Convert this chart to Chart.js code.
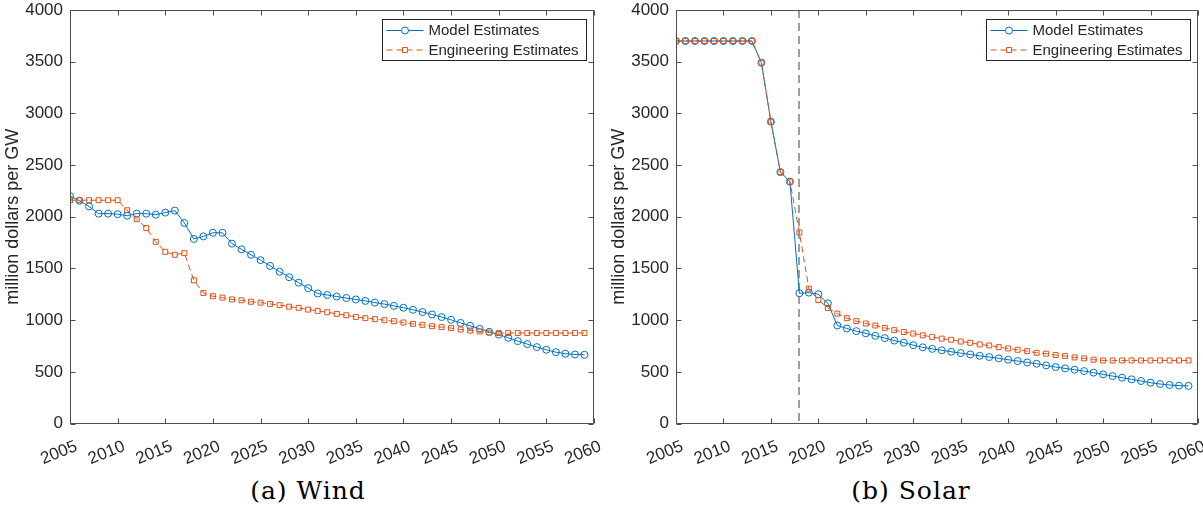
<!DOCTYPE html>
<html lang="en">
  <head>
    <meta charset="UTF-8" />
    <script src="https://cdn.jsdelivr.net/npm/chart.js@4.4.0/dist/chart.umd.min.js"></script>
    <title>Wind and solar cost estimates</title>
    <style>
      body {
        margin: 0;
        background: #fff;
        width: 1203px;
        height: 506px;
        position: relative;
        overflow: hidden;
      }
      .panel {
        position: absolute;
        top: 0;
      }
      #panelWind { left: 0; }
      #panelSolar { left: 606px; }
      .caption {
        position: absolute;
        top: 477px;
        font-family: 'DejaVu Serif', serif;
        font-size: 25px;
        letter-spacing: 1px;
        line-height: 28px;
        transform: translateX(-50%);
        white-space: nowrap;
        color: #000;
      }
    </style>
  </head>
  <body>
    <div class="panel" id="panelWind"><canvas id="chartWind" width="601" height="475"></canvas></div>
    <div class="panel" id="panelSolar"><canvas id="chartSolar" width="597" height="475"></canvas></div>
    <div class="caption" style="left: 308px">(a) Wind</div>
    <div class="caption" style="left: 911px">(b) Solar</div>
    <script>
      const years = [
        2005, 2006, 2007, 2008, 2009, 2010, 2011, 2012, 2013, 2014,
        2015, 2016, 2017, 2018, 2019, 2020, 2021, 2022, 2023, 2024,
        2025, 2026, 2027, 2028, 2029, 2030, 2031, 2032, 2033, 2034,
        2035, 2036, 2037, 2038, 2039, 2040, 2041, 2042, 2043, 2044,
        2045, 2046, 2047, 2048, 2049, 2050, 2051, 2052, 2053, 2054,
        2055, 2056, 2057, 2058, 2059,
      ]
      const windModel = [
        2200, 2155, 2100, 2030, 2030, 2025, 2010, 2030, 2030, 2020,
        2040, 2060, 1940, 1785, 1810, 1845, 1845, 1740, 1685, 1632,
        1580, 1525, 1468, 1415, 1362, 1310, 1258, 1243, 1228, 1214,
        1200, 1186, 1170, 1155, 1138, 1120, 1100, 1078, 1055, 1030,
        1003, 973, 945, 916, 887, 860, 829, 797, 768, 739,
        713, 690, 675, 668, 665,
      ]
      const windEngineering = [
        2160, 2160, 2160, 2160, 2160, 2160, 2063, 1976, 1892, 1757,
        1661, 1632, 1648, 1385, 1262, 1231, 1218, 1200, 1192, 1178,
        1169, 1157, 1145, 1130, 1119, 1102, 1089, 1076, 1060, 1047,
        1031, 1019, 1010, 999, 990, 977, 964, 954, 941, 932,
        923, 909, 899, 890, 880, 875, 875, 875, 875, 875,
        875, 875, 875, 875, 875,
      ]
      const solarModel = [
        3700, 3700, 3700, 3700, 3700, 3700, 3700, 3700, 3700, 3490,
        2920, 2432, 2340, 1260, 1266, 1250, 1163, 948, 919, 893,
        872, 848, 826, 802, 782, 758, 737, 722, 708, 694,
        681, 668, 655, 643, 630, 617, 604, 591, 578, 562,
        546, 533, 520, 507, 492, 475, 459, 443, 427, 411,
        395, 382, 373, 366, 364,
      ]
      const solarEngineering = [
        3700, 3700, 3700, 3700, 3700, 3700, 3700, 3700, 3700, 3490,
        2920, 2432, 2340, 1848, 1304, 1195, 1118, 1063, 1019, 990,
        967, 948, 925, 903, 885, 870, 853, 838, 821, 810,
        793, 781, 765, 755, 739, 726, 713, 700, 684, 675,
        662, 652, 639, 630, 617, 610, 610, 610, 610, 610,
        610, 610, 610, 610, 610,
      ]
      const xTicks = [2005, 2010, 2015, 2020, 2025, 2030, 2035, 2040, 2045, 2050, 2055, 2060]
      const yTicks = [0, 500, 1000, 1500, 2000, 2500, 3000, 3500, 4000]
      const seriesNames = ['Model Estimates', 'Engineering Estimates']
      const solarMarkYear = 2018

      const BLUE = '#0072BD'
      const ORANGE = '#D95319'
      const AXIS = '#262626'
      const FONT = "'Liberation Sans', Arial, sans-serif"
      const TICK = 5
      const XLABEL_ANGLE = 22 * Math.PI / 180

      const toPoints = (vals) => vals.map((v, i) => ({ x: years[i], y: v }))

      // MATLAB-like box, inward ticks, rotated year labels, reference line and legend
      const frame = {
        id: 'frame',
        beforeDatasetsDraw(chart, args, opts) {
          if (opts.markYear == null) return
          const { ctx, chartArea: a, scales: { x } } = chart
          const px = Math.round(x.getPixelForValue(opts.markYear))
          ctx.save()
          ctx.strokeStyle = '#808080'
          ctx.lineWidth = 1.5
          ctx.setLineDash([8, 5])
          ctx.beginPath()
          ctx.moveTo(px, a.top)
          ctx.lineTo(px, a.bottom)
          ctx.stroke()
          ctx.restore()
        },
        afterDraw(chart) {
          const { ctx, chartArea: a, scales: { x, y } } = chart
          const L = Math.round(a.left) + 0.5
          const R = Math.round(a.right) - 0.5
          const T = Math.round(a.top) + 0.5
          const B = Math.round(a.bottom) - 0.5
          ctx.save()
          ctx.strokeStyle = '#4d4d4d'
          ctx.lineWidth = 1
          ctx.beginPath()
          ctx.rect(L, T, R - L, B - T)
          x.ticks.forEach((t) => {
            const p = Math.round(x.getPixelForValue(t.value)) + 0.5
            ctx.moveTo(p, B)
            ctx.lineTo(p, B - TICK)
            ctx.moveTo(p, T)
            ctx.lineTo(p, T + TICK)
          })
          y.ticks.forEach((t) => {
            const p = Math.round(y.getPixelForValue(t.value)) + 0.5
            ctx.moveTo(L, p)
            ctx.lineTo(L + TICK, p)
            ctx.moveTo(R, p)
            ctx.lineTo(R - TICK, p)
          })
          ctx.stroke()

          // rotated year labels
          ctx.font = '17px ' + FONT
          ctx.fillStyle = AXIS
          ctx.textAlign = 'right'
          ctx.textBaseline = 'alphabetic'
          x.ticks.forEach((t) => {
            const p = x.getPixelForValue(t.value)
            ctx.save()
            ctx.translate(p + 8.3, a.bottom + 26.7)
            ctx.rotate(-XLABEL_ANGLE)
            ctx.fillText(String(t.value), 0, 0)
            ctx.restore()
          })

          // legend box
          const w = 204
          const h = 41
          const bx = Math.round(a.right) - 8 - w + 0.5
          const by = Math.round(a.top) + 9 + 0.5
          ctx.fillStyle = '#fff'
          ctx.fillRect(bx, by, w, h)
          ctx.strokeStyle = AXIS
          ctx.strokeRect(bx, by, w, h)
          ctx.font = '15px ' + FONT
          ctx.textBaseline = 'middle'
          ctx.textAlign = 'left'
          chart.data.datasets.forEach((ds, i) => {
            const cy = by + 11 + i * 19.5
            ctx.strokeStyle = ds.borderColor
            ctx.lineWidth = 1
            ctx.setLineDash(ds.borderDash || [])
            ctx.beginPath()
            ctx.moveTo(bx + 4, cy)
            ctx.lineTo(bx + 41, cy)
            ctx.stroke()
            ctx.setLineDash([])
            ctx.fillStyle = '#fff'
            ctx.strokeStyle = ds.pointBorderColor
            Chart.helpers.drawPoint(ctx, {
              pointStyle: ds.pointStyle,
              radius: ds.pointRadius,
              borderWidth: 1,
              rotation: 0,
            }, bx + 22.5, cy)
            ctx.fillStyle = AXIS
            ctx.fillText(ds.label, bx + 46, cy + 0.5)
          })
          ctx.restore()
        },
      }

      const makeChart = (id, model, engineering, markYear) => {
        return new Chart(document.getElementById(id).getContext('2d'), {
          type: 'line',
          data: {
            datasets: [
              {
                label: seriesNames[0],
                data: toPoints(model),
                borderColor: BLUE,
                backgroundColor: 'rgba(0,0,0,0)',
                borderWidth: 1,
                pointStyle: 'circle',
                pointRadius: 3.5,
                pointBorderWidth: 1,
                pointBorderColor: BLUE,
                pointBackgroundColor: 'rgba(0,0,0,0)',
                tension: 0,
                order: 2,
              },
              {
                label: seriesNames[1],
                data: toPoints(engineering),
                borderColor: ORANGE,
                backgroundColor: 'rgba(0,0,0,0)',
                borderWidth: 1,
                borderDash: [6, 4],
                pointStyle: 'rect',
                pointRadius: 3.5,
                pointBorderWidth: 1,
                pointBorderColor: ORANGE,
                pointBackgroundColor: 'rgba(0,0,0,0)',
                tension: 0,
                order: 1,
              },
            ],
          },
          options: {
            responsive: false,
            animation: false,
            events: [],
            layout: { padding: { top: 10, right: id === 'chartWind' ? 7 : 3, left: 0, bottom: 0 } },
            plugins: {
              legend: { display: false },
              tooltip: { enabled: false },
              frame: { markYear: markYear },
            },
            scales: {
              x: {
                type: 'linear',
                min: 2005,
                max: 2060,
                grid: { display: false, drawTicks: false },
                border: { display: false },
                afterBuildTicks: (s) => {
                  s.ticks = xTicks.map((v) => ({ value: v }))
                },
                afterFit: (s) => {
                  s.height = 51.5
                  s.paddingLeft = 0
                  s.paddingRight = 0
                },
                ticks: { display: false },
              },
              y: {
                min: 0,
                max: 4000,
                grid: { display: false, drawTicks: false },
                border: { display: false },
                afterBuildTicks: (s) => {
                  s.ticks = yTicks.map((v) => ({ value: v }))
                },
                afterFit: (s) => {
                  s.width = 70
                  s.paddingTop = 0
                  s.paddingBottom = 0
                },
                ticks: {
                  padding: 7,
                  color: AXIS,
                  font: { family: FONT, size: 17 },
                  callback: (v) => String(v),
                },
                title: {
                  display: true,
                  text: 'million dollars per GW',
                  color: AXIS,
                  font: { family: FONT, size: 18 },
                  padding: { top: 2, bottom: 0 },
                },
              },
            },
          },
          plugins: [frame],
        })
      }

      makeChart('chartWind', windModel, windEngineering, null)
      makeChart('chartSolar', solarModel, solarEngineering, solarMarkYear)
    </script>
  </body>
</html>
